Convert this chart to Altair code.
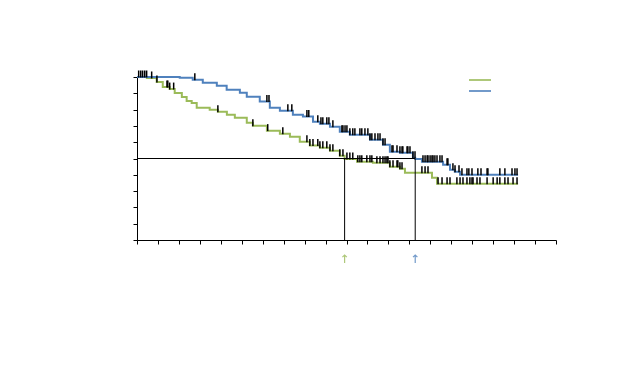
import altair as alt
import pandas as pd
import numpy as np

groups = ["Group 1", "Group 2"]
colors = ["#9BBB59", "#4F81BD"]

# Kaplan-Meier step curves (time, survival)
green_x = [0, 0.47, 0.94, 1.23, 1.56, 1.80, 2.14, 2.37, 2.61, 2.85, 3.47, 3.86, 4.29, 4.67,
           5.24, 5.53, 6.20, 6.82, 7.30, 7.77, 8.25, 8.73, 9.21, 9.68, 9.91, 10.50, 11.26,
           12.07, 12.55, 12.79, 14.08, 14.32, 18.19]
green_y = [1.0, 0.994, 0.969, 0.939, 0.926, 0.902, 0.877, 0.852, 0.840, 0.812, 0.799, 0.787,
           0.769, 0.750, 0.720, 0.701, 0.671, 0.652, 0.634, 0.603, 0.579, 0.566, 0.548, 0.517,
           0.497, 0.480, 0.474, 0.450, 0.437, 0.413, 0.382, 0.345, 0.345]
blue_x = [0, 2.04, 2.66, 3.14, 3.81, 4.28, 4.91, 5.24, 5.86, 6.34, 6.82, 7.44, 7.92, 8.40,
          8.73, 9.21, 9.68, 10.16, 11.12, 11.74, 12.07, 12.55, 13.17, 13.28, 13.60, 14.61,
          14.94, 15.17, 15.42, 18.19]
blue_y = [1.0, 0.995, 0.983, 0.965, 0.946, 0.922, 0.904, 0.879, 0.849, 0.812, 0.793, 0.769,
          0.757, 0.726, 0.713, 0.695, 0.664, 0.646, 0.615, 0.584, 0.542, 0.535, 0.505, 0.497,
          0.480, 0.462, 0.431, 0.419, 0.401, 0.401]

# censoring times
green_censor_x = [0.70, 0.95, 1.43, 1.47, 1.56, 1.75, 3.86, 5.53, 6.24, 6.96, 8.11, 8.25, 8.40,
                  8.63, 8.73, 8.87, 9.06, 9.21, 9.35, 9.68, 9.83, 10.02, 10.16, 10.30, 10.54,
                  10.64, 10.73, 10.97, 11.12, 11.21, 11.45, 11.60, 11.74, 11.84, 11.93, 11.98,
                  12.07, 12.22, 12.41, 12.45, 12.55, 12.65, 13.60, 13.75, 13.89, 14.37, 14.56,
                  14.80, 14.94, 15.27, 15.42, 15.56, 15.75, 15.89, 15.99, 16.04, 16.23, 16.37,
                  16.71, 17.00, 17.19, 17.32, 17.56, 17.71, 17.95, 18.14]
blue_censor_x = [0.08, 0.18, 0.27, 0.37, 0.46, 2.76, 6.20, 6.30, 7.20, 7.39, 8.11, 8.20, 8.63,
                 8.78, 8.87, 9.06, 9.16, 9.35, 9.78, 9.83, 9.93, 10.02, 10.16, 10.30, 10.40,
                 10.64, 10.73, 10.88, 11.02, 11.12, 11.21, 11.36, 11.50, 11.60, 11.74, 11.84,
                 12.17, 12.22, 12.41, 12.55, 12.65, 12.69, 12.89, 12.93, 13.03, 13.17, 13.27,
                 13.65, 13.75, 13.85, 13.89, 13.99, 14.08, 14.13, 14.22, 14.32, 14.46, 14.56,
                 14.80, 14.84, 15.08, 15.18, 15.37, 15.51, 15.75, 15.84, 15.99, 16.27, 16.42,
                 16.71, 16.75, 17.32, 17.56, 17.90, 18.04, 18.14]

x_tick_values = list(range(0, 21))
y_tick_values = [i / 10 for i in range(11)]


def step_at(xs, ys, v):
    i = int(np.searchsorted(np.array(xs), v, side="right")) - 1
    return ys[max(i, 0)]


def median_time(xs, ys):
    for x, y in zip(xs, ys):
        if y <= 0.5:
            return x
    return None


curves = pd.concat([
    pd.DataFrame({"t": green_x, "s": green_y, "g": groups[0]}),
    pd.DataFrame({"t": blue_x, "s": blue_y, "g": groups[1]}),
])
censor = pd.concat([
    pd.DataFrame({"t": green_censor_x,
                  "s": [step_at(green_x, green_y, v) for v in green_censor_x], "g": groups[0]}),
    pd.DataFrame({"t": blue_censor_x,
                  "s": [step_at(blue_x, blue_y, v) for v in blue_censor_x], "g": groups[1]}),
])
med_g = median_time(green_x, green_y)
med_b = median_time(blue_x, blue_y)
medians = pd.DataFrame({"t": [med_g, med_b], "g": groups, "lo": [0.0, 0.0], "hi": [0.5, 0.5]})
hline = pd.DataFrame({"t0": [0.0], "t1": [max(med_g, med_b)], "s": [0.5]})

xs = alt.Scale(domain=[0, 20], nice=False, zero=False)
ys = alt.Scale(domain=[0, 1], nice=False)
cs = alt.Scale(domain=groups, range=colors)

xax = alt.Axis(values=x_tick_values, labels=False, title=None, grid=False,
               domainColor="#000", tickColor="#000", tickSize=4)
yax = alt.Axis(values=y_tick_values, labels=False, title=None, grid=False,
               domainColor="#000", tickColor="#000", tickSize=4)

leg = alt.Legend(
    orient="none", legendX=337, legendY=-3, title=None, labelExpr="''",
    symbolType="M-2.2,0H2.2", symbolSize=100, symbolStrokeWidth=2, padding=0,
    rowPadding=1, labelFontSize=1, symbolFillColor="transparent")

lines = alt.Chart(curves).mark_line(interpolate="step-after", strokeWidth=2).encode(
    x=alt.X("t:Q", scale=xs, axis=xax),
    y=alt.Y("s:Q", scale=ys, axis=yax),
    color=alt.Color("g:N", scale=cs, legend=leg),
)

ticks = alt.Chart(censor).mark_tick(orient="vertical", size=7, thickness=1.5, opacity=1,
                                    color="black", yOffset=-3).encode(
    x=alt.X("t:Q", scale=xs, axis=xax), y=alt.Y("s:Q", scale=ys, axis=yax))

hrule = alt.Chart(hline).mark_rule(color="black", strokeWidth=1).encode(
    x=alt.X("t0:Q", scale=xs, axis=xax), x2="t1:Q", y=alt.Y("s:Q", scale=ys, axis=yax))
vrule = alt.Chart(medians).mark_rule(color="black", strokeWidth=1).encode(
    x=alt.X("t:Q", scale=xs, axis=xax), y=alt.Y("lo:Q", scale=ys, axis=yax), y2="hi:Q")

arrow_path = "M0,1L0,-1M-0.55,-0.45L0,-1L0.55,-0.45"
arrows = alt.Chart(medians).mark_point(shape=arrow_path, filled=False, size=64,
                                       strokeWidth=1.2, yOffset=19, opacity=0.8).encode(
    x=alt.X("t:Q", scale=xs, axis=xax), y=alt.Y("lo:Q", scale=ys, axis=yax),
    color=alt.Color("g:N", scale=cs, legend=leg))

chart = alt.layer(lines, hrule, vrule, ticks, arrows).properties(
    width=419, height=163,
    autosize=alt.AutoSizeParams(type="none"),
    padding={"left": 129, "top": 69, "right": 70, "bottom": 100},
).configure(background="white").configure_view(stroke=None)

chart.save("out.html", embed_options={"renderer": "svg", "actions": False})
